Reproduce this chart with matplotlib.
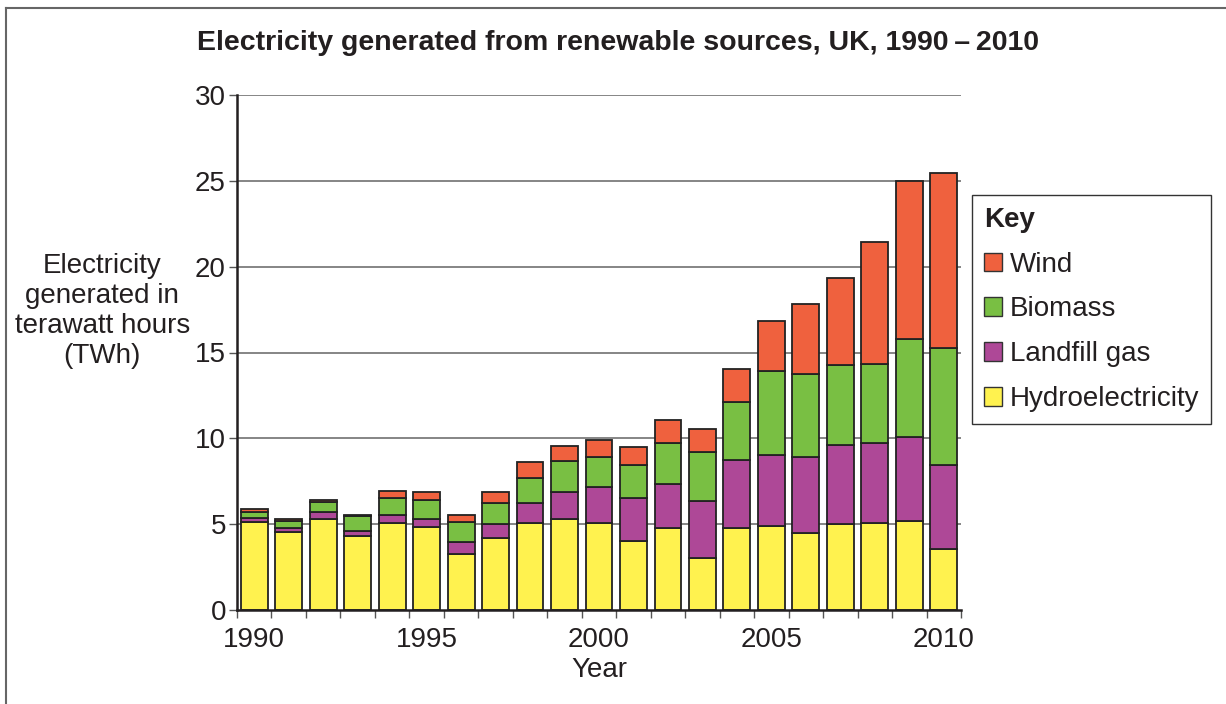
import matplotlib
matplotlib.use("Agg")
import matplotlib.pyplot as plt
from matplotlib.patches import Patch
from matplotlib.lines import Line2D

plt.rcParams['font.family'] = ['Liberation Sans', 'DejaVu Sans']

# values (TWh)
years = list(range(1990, 2011))
hydro = [5.14, 4.52, 5.30, 4.31, 5.07, 4.81, 3.24, 4.19, 5.05, 5.32, 5.05,
         4.00, 4.79, 3.03, 4.76, 4.89, 4.48, 5.03, 5.07, 5.20, 3.55]
landfill = [0.20, 0.24, 0.39, 0.31, 0.44, 0.47, 0.70, 0.82, 1.20, 1.55, 2.13,
            2.54, 2.55, 3.30, 3.99, 4.16, 4.45, 4.56, 4.67, 4.86, 4.91]
biomass = [0.35, 0.44, 0.58, 0.83, 0.99, 1.11, 1.19, 1.20, 1.46, 1.79, 1.75,
           1.92, 2.37, 2.89, 3.38, 4.89, 4.83, 4.66, 4.59, 5.71, 6.82]
wind = [0.17, 0.12, 0.14, 0.10, 0.43, 0.46, 0.38, 0.68, 0.89, 0.87, 0.99,
        1.01, 1.37, 1.34, 1.92, 2.91, 4.08, 5.07, 7.08, 9.20, 10.19]

series = [("Hydroelectricity", hydro, "#FFF24F"),
          ("Landfill gas", landfill, "#AE4897"),
          ("Biomass", biomass, "#79BF43"),
          ("Wind", wind, "#EF613E")]

text_col = "#231F20"
fs = 20

fig = plt.figure(figsize=(12.26, 7.04), dpi=100)
ax = fig.add_axes([237 / 1226, 1 - 610 / 704, 724 / 1226, 515 / 704])

bottom = [0.0] * len(years)
handles = []
for name, vals, col in series:
    ax.bar(years, vals, width=0.78, bottom=bottom, color=col,
           edgecolor="#222222", linewidth=1.3, zorder=3)
    bottom = [b + v for b, v in zip(bottom, vals)]
    handles.append(Patch(facecolor=col, edgecolor="#333333", linewidth=1.0, label=name))

ax.set_xlim(1989.5, 2010.5)
ax.set_ylim(0, 30)

# grid
for yv in range(5, 31, 5):
    ax.axhline(yv, color="#858585", linewidth=1.4, zorder=1)

for s in ["top", "right"]:
    ax.spines[s].set_visible(False)
for s in ["left", "bottom"]:
    ax.spines[s].set_linewidth(1.8)
    ax.spines[s].set_color("#231F20")
    ax.spines[s].set_zorder(4)

ax.set_yticks(range(0, 31, 5))
ax.tick_params(axis="y", direction="out", length=6, width=1.0, colors="#555555",
               labelcolor=text_col, labelsize=fs, pad=2)
ax.set_xticks([1990, 1995, 2000, 2005, 2010])
ax.set_xticks([y - 0.5 for y in years] + [2010.5], minor=True)
ax.tick_params(axis="x", which="major", length=0, labelsize=fs, labelcolor=text_col, pad=12)
ax.tick_params(axis="x", which="minor", direction="out", length=6, width=1.0, colors="#555555")

ax.set_xlabel("Year", fontsize=fs, color=text_col, labelpad=3)
ax.set_ylabel("Electricity\ngenerated in\nterawatt hours\n(TWh)", fontsize=fs,
              color=text_col, rotation=0, ha="center", va="center", linespacing=1.2)
ax.yaxis.set_label_coords(-0.186, 0.58)

fig.text(618 / 1226, 1 - 43 / 704,
         "Electricity generated from renewable sources, UK, 1990\u2009\u2013\u20092010",
         ha="center", va="center", fontsize=20.5, fontweight="bold", color=text_col)

leg = ax.legend(handles=handles[::-1], title="Key", loc="upper left",
                bbox_to_anchor=(972 / 1226, 1 - 195 / 704), bbox_transform=fig.transFigure,
                borderaxespad=0, fontsize=fs, title_fontproperties={"weight": "bold", "size": fs},
                alignment="left", fancybox=False, framealpha=1, edgecolor="#333333",
                handlelength=0.65, handleheight=0.65, handletextpad=0.3,
                labelspacing=0.68, borderpad=0.42)
leg.get_frame().set_linewidth(1.0)
for t in leg.get_texts():
    t.set_color(text_col)
leg.get_title().set_color(text_col)

# outer frame (top and left edges visible)
fig.add_artist(Line2D([6 / 1226, 6 / 1226], [0, 1 - 8 / 704], transform=fig.transFigure,
                      color="#666666", linewidth=1.5))
fig.add_artist(Line2D([6 / 1226, 1], [1 - 8 / 704, 1 - 8 / 704], transform=fig.transFigure,
                      color="#666666", linewidth=1.5))

fig.savefig("out.png", dpi=100)
